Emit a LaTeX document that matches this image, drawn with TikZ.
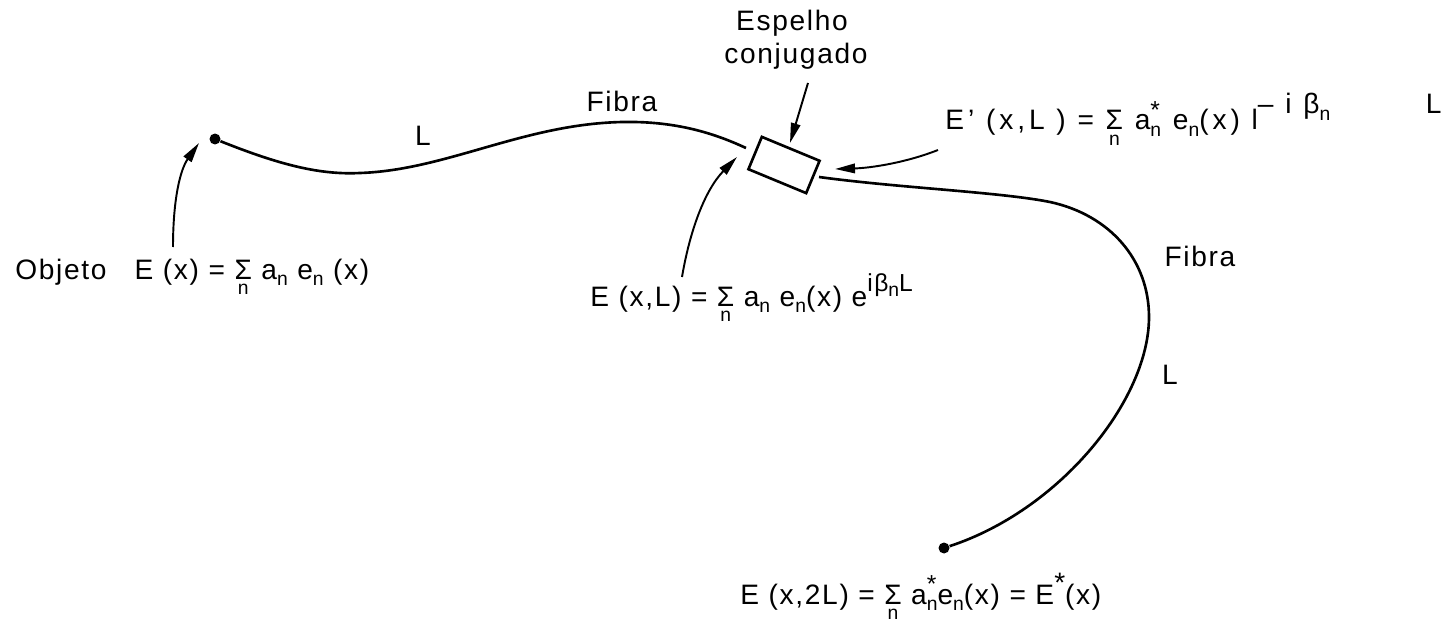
\documentclass[tikz,border=0pt]{standalone}
\usepackage{fontspec}
\setmainfont{Liberation Sans}[LetterSpace=6]
\usetikzlibrary{arrows.meta,calc}
\newcommand{\dn}[1]{\raisebox{-0.45ex}{\fontsize{11}{11}\selectfont #1}}
\newcommand{\up}[1]{\raisebox{1.0ex}{\fontsize{14}{14}\selectfont #1}}
\newcommand{\st}{\makebox[0pt][l]{\raisebox{0.75ex}{\fontsize{14}{14}\selectfont *}}}
\newcommand{\sumn}{\begin{tabular}[t]{@{}c@{}}Σ\\[-10pt]{\fontsize{11}{11}\selectfont n}\end{tabular}}

\begin{document}
\begin{tikzpicture}[x=0.02cm,y=-0.02cm,
    fibra/.style={line width=1.5pt},
    seta/.style={line width=1.1pt,-{Triangle[length=4mm,width=1.9mm]}},
    ponto/.style={circle,fill,inner sep=0pt,minimum size=2.2mm},
    txt/.style={font=\fontsize{16}{19}\selectfont,inner sep=0pt}]
  \useasboundingbox (0,0) rectangle (1451,625);

  % extremidades e espelho
  \node[ponto] (obj) at (215,139) {};
  \node[ponto] (img) at (944,548) {};
  \node[draw,line width=1.5pt,rotate=-22.5,minimum width=1.25cm,minimum height=0.7cm,inner sep=0pt] (esp) at (784,165) {};
  \coordinate (f1) at (746,148);
  \coordinate (f2) at (819,177);

  % fibras
  \draw[fibra] (obj) .. controls (280,165) and (320,175) .. (360,173)
    .. controls (450,170) and (530,120) .. (635,122)
    .. controls (685,123) and (720,136) .. (f1);
  \draw[fibra] (f2) .. controls (900,188) and (1000,192) .. (1050,202)
    .. controls (1110,215) and (1149,260) .. (1149,317)
    .. controls (1149,400) and (1060,510) .. (img);

  % textos
  \node[txt,anchor=base] (fib1) at (622,112) {Fibra};
  \node[txt,anchor=base] (L1) at (423,146) {L};
  \node[txt,anchor=base] (fib2) at (1200,266) {Fibra};
  \node[txt,anchor=base] (L2) at (1170,384) {L};
  \node[txt,anchor=base] (esp1) at (792,31) {Espelho};
  \node[txt,anchor=base] (esp2) at (796,64) {conjugado};

  \node[txt,anchor=base west] (eq0) at (15,279) {Objeto\quad E (x) = \sumn\ a\dn{n} e\dn{n} (x)};
  \node[txt,anchor=base west] (eq1) at (590,306) {E (x,L) = \sumn\ a\dn{n} e\dn{n}(x) e\up{iβ\dn{n}L}};
  \node[txt,anchor=base west,font=\fontsize{16}{19}\selectfont\addfontfeature{LetterSpace=14}] (eq2) at (945,130) {E' (x,L ) = \sumn\ a\st\dn{n} e\dn{n}(x) l\raisebox{1.1ex}{– i β\dn{n}\hspace{3.4em}L}};
  \node[txt,anchor=base west] (eq3) at (740,604) {E (x,2L) = \sumn\ a\st\dn{n}e\dn{n}(x) = E\raisebox{0.75ex}{*}(x)};

  % setas
  \coordinate (s0) at (173,247);
  \coordinate (s1) at (682,277);
  \coordinate (s2) at (808,83);
  \coordinate (s3) at (938,150);
  \draw[seta] (s0) .. controls (173,200) and (180,170) .. (199,143);
  \draw[seta] (s1) .. controls (690,230) and (705,190) .. (737,157);
  \draw[seta] (s2) -- (790,143);
  \draw[seta] (s3) .. controls (905,163) and (870,168) .. (835,169);
\end{tikzpicture}
\end{document}
